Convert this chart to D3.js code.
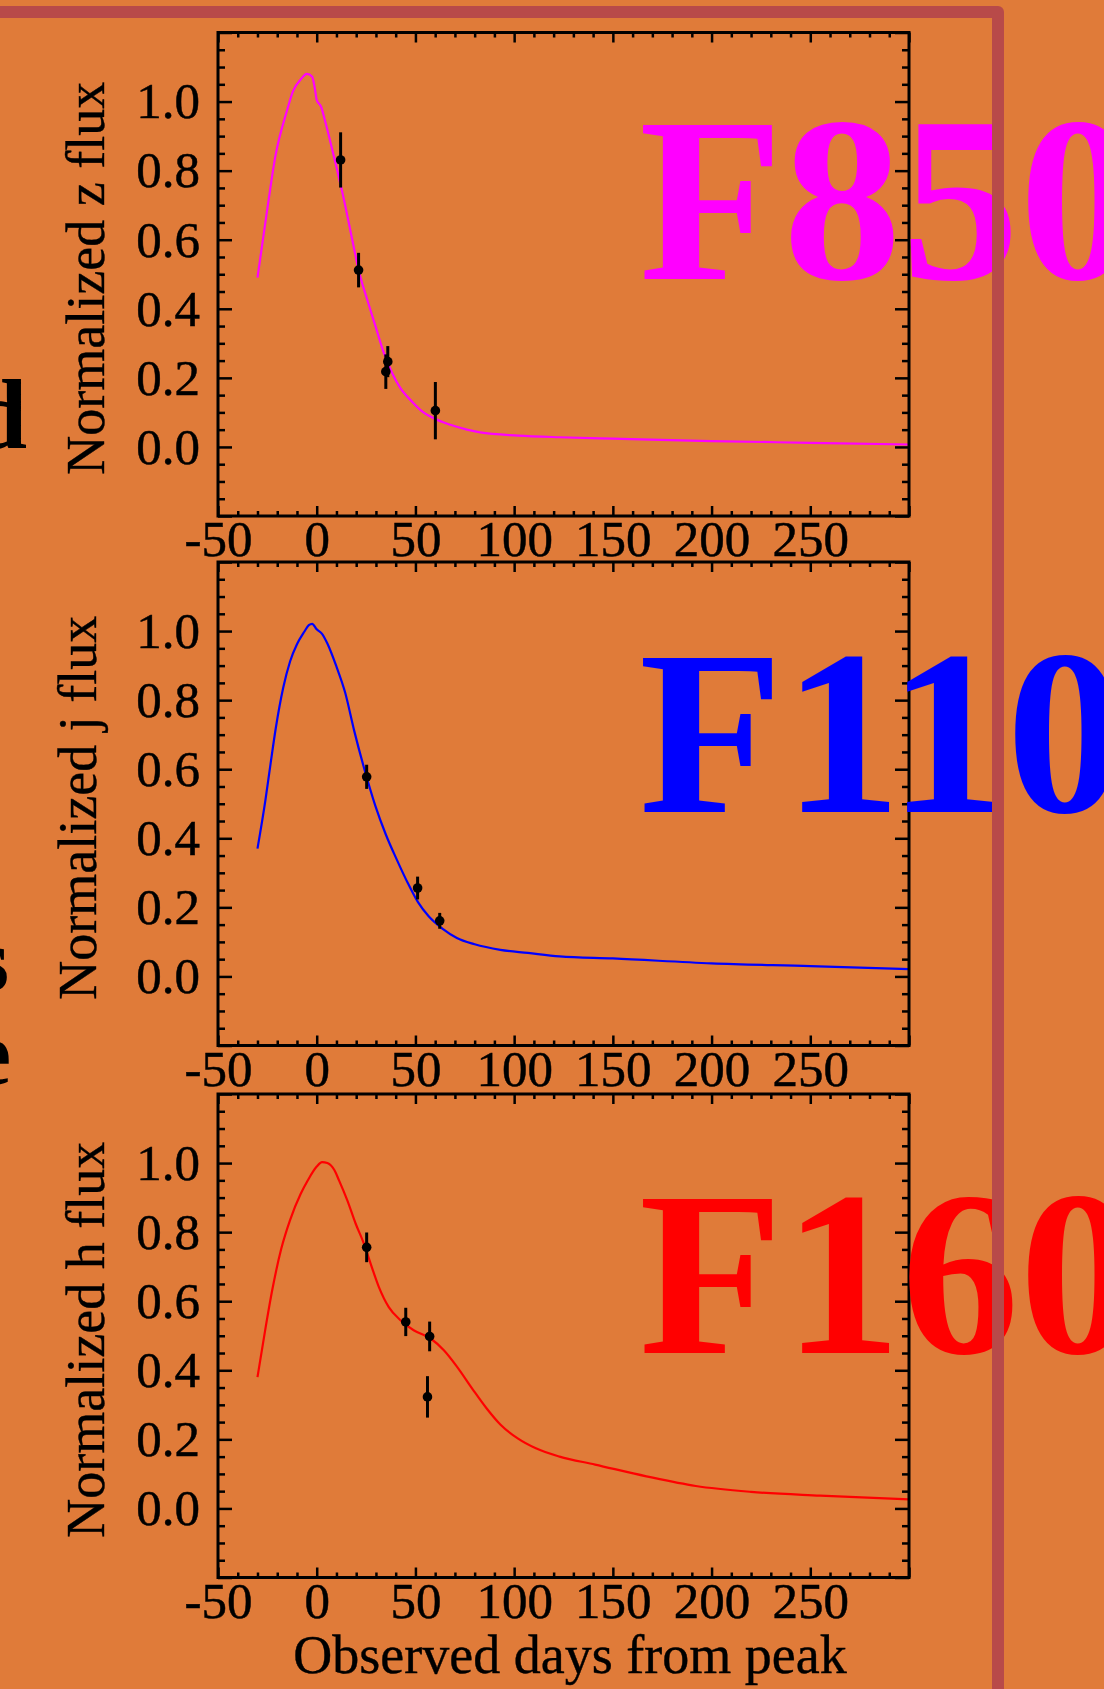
<!DOCTYPE html>
<html>
<head>
<meta charset="utf-8">
<script src="https://cdn.jsdelivr.net/npm/d3@7"></script>
<style>
  html, body { margin: 0; padding: 0; background: #e07b39; }
  svg { display: block; }
</style>
</head>
<body>
<svg id="chart" width="1104" height="1689"></svg>
<script>
// model light curves: observed days from peak vs normalized flux
const zDays = [-30, -25, -21, -15, -12, -8, -5, -2.3, -0.9, 0, 2.2, 4.5, 8.7, 13.8, 18, 21.4, 25.6, 29.8, 34, 38.2, 42.4, 48.3, 53.4, 59.3, 67.7, 76.1, 82.8, 102, 123, 150, 200, 250, 300]
const zFlux = [0.49, 0.69, 0.84, 0.975, 1.03, 1.065, 1.08, 1.072, 1.036, 1.005, 0.985, 0.938, 0.841, 0.716, 0.6, 0.508, 0.426, 0.349, 0.272, 0.214, 0.17, 0.131, 0.103, 0.083, 0.064, 0.05, 0.042, 0.033, 0.028, 0.024, 0.017, 0.012, 0.007]

const jDays = [-30, -26, -23.4, -20.7, -17, -13.5, -10, -6.3, -4, -2.3, 0, 2.7, 5.4, 10, 14.4, 19, 24.3, 29.7, 35, 40.5, 46, 51.3, 56.7, 64, 71, 80, 93, 107, 123, 150, 200, 250, 300]
const jFlux = [0.37, 0.51, 0.615, 0.72, 0.835, 0.912, 0.962, 0.998, 1.017, 1.021, 1.005, 0.992, 0.964, 0.897, 0.822, 0.711, 0.597, 0.494, 0.411, 0.339, 0.272, 0.215, 0.174, 0.137, 0.111, 0.093, 0.077, 0.068, 0.058, 0.052, 0.038, 0.03, 0.021]

const hDays = [-30, -26, -22.5, -18, -13.5, -8.1, -4.7, 0, 2.7, 5.4, 9, 11.3, 15.5, 19.7, 23.9, 27.3, 31.5, 36.5, 42.4, 49.1, 57.7, 64.4, 71.1, 79, 86, 93, 102, 111, 123, 141, 167, 192, 220, 255, 300]
const hFlux = [0.38, 0.52, 0.633, 0.751, 0.835, 0.911, 0.948, 0.99, 1.003, 1.0, 0.979, 0.95, 0.892, 0.825, 0.767, 0.709, 0.641, 0.583, 0.545, 0.516, 0.492, 0.458, 0.41, 0.345, 0.29, 0.243, 0.202, 0.174, 0.15, 0.127, 0.093, 0.065, 0.048, 0.037, 0.026]

// observed photometry with 1-sigma errors
const zObsDays = [12.1, 21.2, 35.0, 36.0, 60.1]
const zObsFlux = [0.831, 0.512, 0.218, 0.247, 0.105]
const zObsErr = [0.08, 0.05, 0.05, 0.045, 0.083]

const jObsDays = [25.3, 51.1, 62.3]
const jObsFlux = [0.578, 0.256, 0.161]
const jObsErr = [0.035, 0.033, 0.023]

const hObsDays = [25.3, 45.1, 57.2, 56.1]
const hObsFlux = [0.756, 0.54, 0.498, 0.323]
const hObsErr = [0.043, 0.041, 0.043, 0.06]

const xTicks = [-50, 0, 50, 100, 150, 200, 250, 300]
const xLabels = [-50, 0, 50, 100, 150, 200, 250]
const yTicks = [-0.2, 0, 0.2, 0.4, 0.6, 0.8, 1.0, 1.2]
const yLabels = [0, 0.2, 0.4, 0.6, 0.8, 1.0]

const panels = [
    {band: 'z', filter: 'F850', color: '#ff00ff', top: 32.5, labelY: 279, titleX: 104, days: zDays, flux: zFlux, obsDays: zObsDays, obsFlux: zObsFlux, obsErr: zObsErr},
    {band: 'j', filter: 'F110', color: '#0000ff', top: 562, labelY: 812, titleX: 96, days: jDays, flux: jFlux, obsDays: jObsDays, obsFlux: jObsFlux, obsErr: jObsErr},
    {band: 'h', filter: 'F160', color: '#ff0000', top: 1094, labelY: 1353, titleX: 104, days: hDays, flux: hFlux, obsDays: hObsDays, obsFlux: hObsFlux, obsErr: hObsErr}
]

const left = 218
const right = 909
const plotH = 483.5
const serif = "'Liberation Serif', 'Times New Roman', serif"

let svg = d3.select('#chart')

svg.append('rect')
    .attr('width', 1104)
    .attr('height', 1689)
    .attr('fill', '#e07b39')

// cut-off slide text on the left edge
let frag = svg.append('g')
    .attr('font-family', serif)
    .attr('font-weight', 'bold')
    .attr('text-anchor', 'end')
    .attr('fill', '#000')
frag.append('text').attr('x', 27).attr('y', 448).attr('font-size', 100).text('d')
frag.append('text').attr('x', 9).attr('y', 990).attr('font-size', 88).text('s')
frag.append('text').attr('x', 11).attr('y', 1084).attr('font-size', 92).text('e')

let x = d3.scaleLinear().domain([-50, 300]).range([left, right])
let xMinor = d3.range(-50, 301, 10).filter(d => d % 50 !== 0)
let yMinor = d3.range(-4, 25).map(d => d * 0.05).filter(d => Math.abs(d * 5 - Math.round(d * 5)) > 1e-6)

function styleAxis (g) {
    g.select('.domain').remove()
    g.selectAll('line').attr('stroke', '#000').attr('stroke-width', 2.5)
    g.selectAll('text')
        .attr('font-family', serif)
        .attr('font-size', 51)
        .attr('fill', '#000')
        .attr('stroke', '#000')
        .attr('stroke-width', 0.5)
}

function ticksOnly (axis, values, size) {
    return axis.tickValues(values).tickSize(size).tickFormat('')
}

panels.forEach((p, i) => {
    let y = d3.scaleLinear().domain([-0.2, 1.2]).range([p.top + plotH, p.top])
    let g = svg.append('g')
    let bottom = p.top + plotH

    g.append('clipPath')
        .attr('id', 'clip' + i)
        .append('rect')
        .attr('x', left)
        .attr('y', p.top)
        .attr('width', right - left)
        .attr('height', plotH)

    // model curve
    let line = d3.line()
        .x((d, k) => x(p.days[k]))
        .y(d => y(d))
        .curve(d3.curveMonotoneX)

    g.append('path')
        .datum(p.flux)
        .attr('d', line)
        .attr('fill', 'none')
        .attr('stroke', p.color)
        .attr('stroke-width', 2.2)
        .attr('clip-path', 'url(#clip' + i + ')')

    // error bars + points
    g.selectAll('.err')
        .data(p.obsFlux)
        .enter()
        .append('line')
        .attr('x1', (d, k) => x(p.obsDays[k]))
        .attr('x2', (d, k) => x(p.obsDays[k]))
        .attr('y1', (d, k) => y(d - p.obsErr[k]))
        .attr('y2', (d, k) => y(d + p.obsErr[k]))
        .attr('stroke', '#000')
        .attr('stroke-width', 3)

    g.selectAll('.pt')
        .data(p.obsFlux)
        .enter()
        .append('circle')
        .attr('cx', (d, k) => x(p.obsDays[k]))
        .attr('cy', d => y(d))
        .attr('r', 4.8)
        .attr('fill', '#000')

    // ticks on all four sides pointing inward
    g.append('g').attr('transform', `translate(0,${bottom})`)
        .call(ticksOnly(d3.axisBottom(x), xTicks, -10)).call(styleAxis)
    g.append('g').attr('transform', `translate(0,${bottom})`)
        .call(ticksOnly(d3.axisBottom(x), xMinor, -5)).call(styleAxis)
    g.append('g').attr('transform', `translate(0,${p.top})`)
        .call(ticksOnly(d3.axisTop(x), xTicks, -10)).call(styleAxis)
    g.append('g').attr('transform', `translate(0,${p.top})`)
        .call(ticksOnly(d3.axisTop(x), xMinor, -5)).call(styleAxis)
    g.append('g').attr('transform', `translate(${left},0)`)
        .call(ticksOnly(d3.axisLeft(y), yTicks, -14)).call(styleAxis)
    g.append('g').attr('transform', `translate(${left},0)`)
        .call(ticksOnly(d3.axisLeft(y), yMinor, -7)).call(styleAxis)
    g.append('g').attr('transform', `translate(${right},0)`)
        .call(ticksOnly(d3.axisRight(y), yTicks, -14)).call(styleAxis)
    g.append('g').attr('transform', `translate(${right},0)`)
        .call(ticksOnly(d3.axisRight(y), yMinor, -7)).call(styleAxis)

    // tick labels
    g.append('g').attr('transform', `translate(0,${bottom})`)
        .call(d3.axisBottom(x).tickValues(xLabels).tickSize(0).tickPadding(4).tickFormat(d => String(d)))
        .call(styleAxis)
    g.append('g').attr('transform', `translate(${left},0)`)
        .call(d3.axisLeft(y).tickValues(yLabels).tickSize(0).tickPadding(18).tickFormat(d3.format('.1f')))
        .call(styleAxis)

    g.append('rect')
        .attr('x', left)
        .attr('y', p.top)
        .attr('width', right - left)
        .attr('height', plotH)
        .attr('fill', 'none')
        .attr('stroke', '#000')
        .attr('stroke-width', 3)

    // y title
    g.append('text')
        .attr('transform', `translate(${p.titleX},${p.top + plotH / 2 + 4}) rotate(-90)`)
        .attr('text-anchor', 'middle')
        .attr('font-family', serif)
        .attr('font-size', 54)
        .attr('fill', '#000')
        .attr('stroke', '#000')
        .attr('stroke-width', 0.4)
        .text('Normalized ' + p.band + ' flux')

    // big filter label
    svg.append('text')
        .attr('x', 639)
        .attr('y', p.labelY)
        .attr('font-family', serif)
        .attr('font-weight', 'bold')
        .attr('font-size', 236)
        .attr('fill', p.color)
        .text(p.filter)
})

svg.append('text')
    .attr('x', 570)
    .attr('y', 1673)
    .attr('text-anchor', 'middle')
    .attr('font-family', serif)
    .attr('font-size', 54)
    .attr('fill', '#000')
    .attr('stroke', '#000')
    .attr('stroke-width', 0.4)
    .text('Observed days from peak')

// slide border line
svg.append('path')
    .attr('d', 'M -20 12 H 998 V 1710')
    .attr('fill', 'none')
    .attr('stroke', '#b84a49')
    .attr('stroke-width', 12)
    .attr('stroke-linejoin', 'round')
</script>
</body>
</html>
